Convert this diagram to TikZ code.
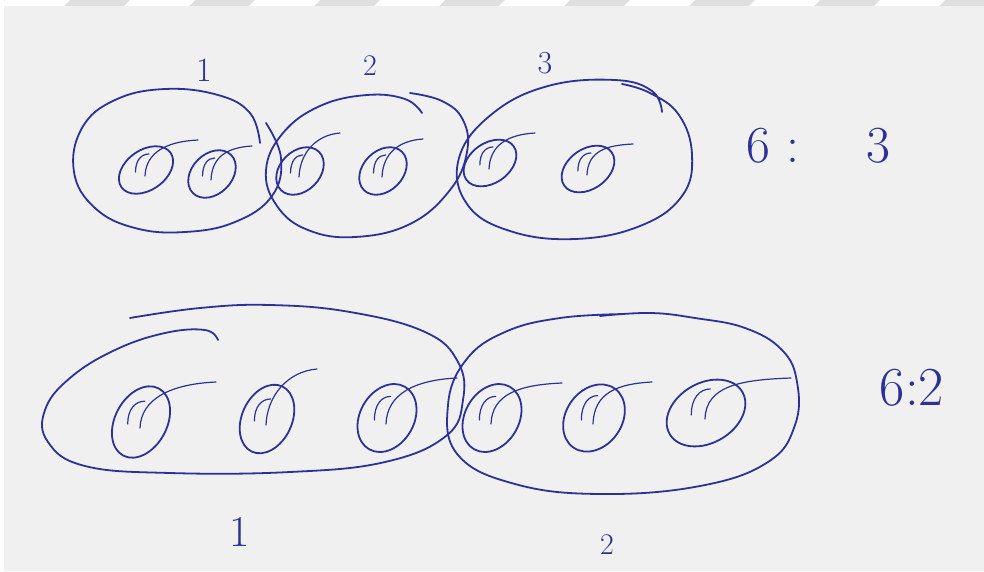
\documentclass[tikz,border=0pt]{standalone}
\usepackage{fontspec}
\definecolor{ink}{RGB}{44,48,152}
\definecolor{paper}{RGB}{240,240,241}
\tikzset{
  pen/.style={draw=ink,line width=1.8pt,line cap=round,line join=round},
  finepen/.style={draw=ink,line width=1.2pt,line cap=round,line join=round},
  lbl/.style={text=ink,inner sep=0pt}
}
% #1,#2 centre; #3,#4 radii; #5 tilt; #6,#7 tail end offset
\newcommand{\inkoval}[7]{%
  \draw[pen,rotate around={#5:(#1,#2)}] (#1,#2) ellipse ({#3} and {#4});
  \draw[finepen] ({#1-1},{#2+6}) .. controls ({#1},{#2-0.9*#4}) and ({#1+0.4*#6},{#2+0.95*#7}) .. ({#1+#6},{#2+#7});
  \draw[finepen] ({#1-0.35*#3},{#2+2}) .. controls ({#1-0.35*#3},{#2-0.5*#4}) and ({#1-0.15*#3},{#2-0.8*#4}) .. ({#1+0.1*#3},{#2-0.8*#4});
}
\begin{document}
\begin{tikzpicture}[x=1pt,y=-1pt]
\useasboundingbox (0,0) rectangle (984,571);
\fill[paper] (0,0) rectangle (984,571);
\fill[gray!25] (0,0) rectangle (984,6);
\foreach \i in {0,...,8}
  \fill[white] ({\i*125+5},0) -- ({\i*125+70},0) -- ({\i*125+64},6) -- ({\i*125-1},6) -- cycle;
\fill[white] (0,0) rectangle (4,571);

% top row groups
\draw[pen] plot[smooth,tension=0.7] coordinates {(266,123) (281,158) (272,196) (235,222) (185,232) (135,228) (95,208) (74,172) (82,128) (115,100) (165,89) (218,95) (250,113) (260,143)};
\draw[pen] plot[smooth,tension=0.7] coordinates {(410,93) (442,101) (463,120) (467,152) (450,190) (410,224) (355,237) (308,230) (277,206) (266,170) (283,133) (320,106) (367,95) (405,99) (422,113)};
\draw[pen] plot[smooth,tension=0.7] coordinates {(662,112) (652,91) (615,80) (548,86) (492,114) (459,158) (467,204) (510,231) (575,239) (640,226) (682,196) (692,155) (679,115) (650,93) (622,84)};

\inkoval{146}{170}{30}{20}{35}{52}{-30}
\inkoval{212}{174}{27}{20}{45}{40}{-28}
\inkoval{300}{171}{27}{20}{45}{40}{-38}
\inkoval{383}{171}{27}{20}{45}{40}{-32}
\inkoval{490}{163}{29}{20}{35}{45}{-30}
\inkoval{588}{169}{29}{20}{35}{45}{-25}

% bottom row groups
\draw[pen] plot[smooth,tension=0.7] coordinates {(130,318) (200,308) (270,305) (350,312) (425,332) (458,362) (463,400) (446,436) (385,462) (290,472) (170,473) (85,466) (48,442) (45,410) (70,378) (115,350) (165,333) (205,330) (218,340)};
\draw[pen] plot[smooth,tension=0.7] coordinates {(625,314) (560,318) (505,332) (466,360) (448,405) (458,455) (515,484) (600,494) (700,486) (768,462) (795,425) (797,382) (782,350) (745,328) (695,318) (650,313) (600,316)};

\inkoval{141}{422}{38}{26}{62}{75}{-40}
\inkoval{267}{419}{36}{25}{65}{50}{-50}
\inkoval{387}{418}{36}{27}{60}{70}{-40}
\inkoval{492}{418}{36}{27}{60}{70}{-35}
\inkoval{594}{418}{36}{28}{55}{58}{-36}
\inkoval{706}{413}{42}{30}{30}{85}{-35}

% labels
\node[lbl,font=\fontsize{34}{34}\selectfont] (t1) at (204,70) {1};
\node[lbl,font=\fontsize{30}{30}\selectfont] (t2) at (370,66) {2};
\node[lbl,font=\fontsize{32}{32}\selectfont] (t3) at (545,63) {3};
\node[lbl,font=\fontsize{52}{52}\selectfont] (r1) at (818,146) {6\hspace{17pt}:\hspace{66pt}3};
\node[lbl,font=\fontsize{55}{55}\selectfont] (r2) at (912,388) {6:2};
\node[lbl,font=\fontsize{44}{44}\selectfont] (b1) at (240,532) {1};
\node[lbl,font=\fontsize{30}{30}\selectfont] (b2) at (607,545) {2};
\end{tikzpicture}
\end{document}
